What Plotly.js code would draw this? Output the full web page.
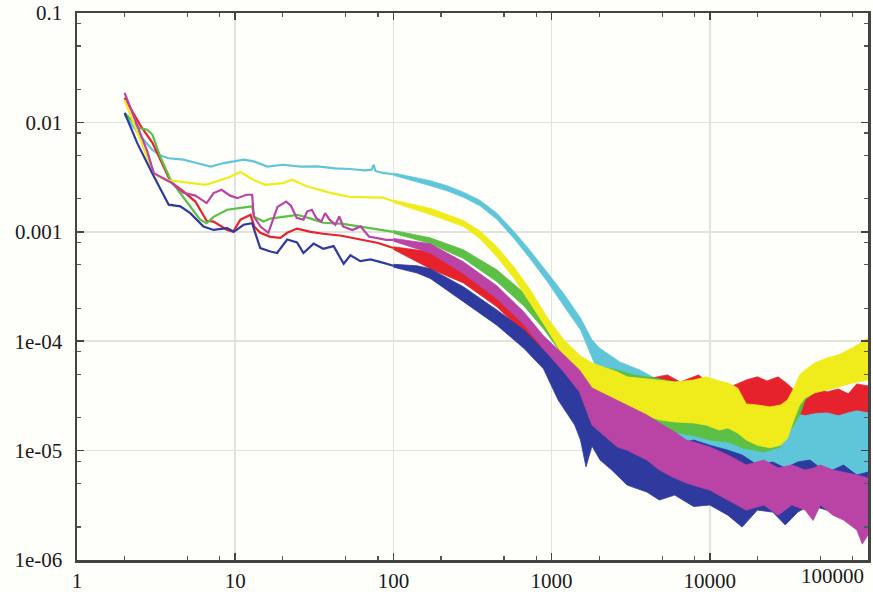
<!DOCTYPE html>
<html>
<head>
<meta charset="utf-8">
<script src="https://cdn.plot.ly/plotly-3.0.1.min.js"></script>
<style>html,body{margin:0;padding:0;background:#fefefa;}#chart{width:873px;height:592px;}</style>
</head>
<body>
<div id="chart"></div>
<script>
// ---- axis ticks ----
const xTickVals = [1, 10, 100, 1000, 10000];
const xTickText = ['1', '10', '100', '1000', '10000'];
const xLastTickText = '100000';
const yTickVals = [1e-6, 1e-5, 1e-4, 1e-3, 1e-2, 1e-1];
const yTickText = ['1e-06', '1e-05', '1e-04', '0.001', '0.01', '0.1'];
const xMinorVals = [2,5,8,20,50,80,200,500,800,2000,5000,8000,20000,50000,80000];
const yMinorVals = [2e-6,5e-6,8e-6,2e-5,5e-5,8e-5,2e-4,5e-4,8e-4,2e-3,5e-3,8e-3,2e-2,5e-2,8e-2];

// ---- cyan series ----
const cyanLineX = [2.0, 2.5, 3.0, 3.4, 3.8, 4.7, 5.7, 7.0, 8.5, 11.3, 13.1, 16, 20, 26, 33, 43, 53, 66, 73, 75, 77, 86, 100];
const cyanLineY = [1.17e-2, 7.6e-3, 5.6e-3, 4.95e-3, 4.7e-3, 4.56e-3, 4.25e-3, 3.95e-3, 4.25e-3, 4.56e-3, 4.4e-3, 3.95e-3, 4.1e-3, 3.95e-3, 3.96e-3, 3.8e-3, 3.75e-3, 3.65e-3, 3.7e-3, 4.1e-3, 3.6e-3, 3.45e-3, 3.36e-3];
const cyanBandX = [100, 171, 218, 277, 352, 451, 577, 733, 932, 1195, 1523, 1800, 2000, 2700, 3600, 5000, 7000, 10000, 14000, 20000, 25000, 30000, 40000, 50000, 70000, 100000];
const cyanBandHi = [3.45e-3, 2.93e-3, 2.64e-3, 2.30e-3, 1.94e-3, 1.48e-3, 1.01e-3, 6.70e-4, 4.31e-4, 2.71e-4, 1.63e-4, 1.03e-4, 8.69e-5, 6.46e-5, 5.46e-5, 4.24e-5, 3.74e-5, 3.23e-5, 2.90e-5, 2.61e-5, 2.35e-5, 2.45e-5, 2.35e-5, 2.25e-5, 2.35e-5, 2.61e-5];
const cyanBandLo = [3.28e-3, 2.64e-3, 2.37e-3, 2.07e-3, 1.73e-3, 1.30e-3, 8.72e-4, 5.66e-4, 3.56e-4, 2.10e-4, 1.27e-4, 7.03e-5, 4.92e-5, 3.44e-5, 2.61e-5, 1.54e-5, 1.01e-5, 7.23e-6, 6.37e-6, 5.86e-6, 5.16e-6, 5.61e-6, 5.38e-6, 5.16e-6, 4.84e-6, 4.36e-6];

// ---- red series ----
const redLineX = [2.0, 2.5, 3.0, 3.9, 4.7, 5.6, 6.6, 7.3, 8.9, 9.7, 10.8, 12.5, 13.2, 14.4, 16.7, 19.3, 21.3, 24.6, 30, 36, 47, 60, 80, 100];
const redLineY = [1.68e-2, 9.5e-3, 6.5e-3, 2.88e-3, 2.34e-3, 1.89e-3, 1.26e-3, 1.24e-3, 1.04e-3, 1.0e-3, 1.29e-3, 1.43e-3, 1.12e-3, 9.8e-4, 9.0e-4, 8.8e-4, 9.8e-4, 1.07e-3, 1.0e-3, 9.6e-4, 9.2e-4, 8.6e-4, 7.9e-4, 7.1e-4];
const redBandX = [100, 171, 277, 451, 668, 888, 1195, 1500, 1800, 2200, 3000, 4000, 5400, 6500, 8500, 10000, 13000, 17000, 20000, 23000, 27000, 31000, 35000, 40000, 46000, 55000, 65000, 75000, 85000, 100000];
const redBandHi = [7.3e-4, 6.56e-4, 4.49e-4, 2.77e-4, 1.57e-4, 9.65e-5, 6.74e-5, 5.70e-5, 5.46e-5, 5.13e-5, 4.81e-5, 4.52e-5, 4.92e-5, 4.24e-5, 4.92e-5, 4.07e-5, 3.74e-5, 4.42e-5, 4.72e-5, 4.33e-5, 4.72e-5, 4.07e-5, 3.44e-5, 3.58e-5, 3.90e-5, 3.44e-5, 3.66e-5, 3.30e-5, 4.07e-5, 3.90e-5];
const redBandLo = [6.9e-4, 4.6e-4, 3.41e-4, 2.06e-4, 1.19e-4, 7.19e-5, 4.61e-5, 3.44e-5, 3.03e-5, 2.78e-5, 2.61e-5, 2.45e-5, 2.35e-5, 2.35e-5, 2.35e-5, 2.25e-5, 2.25e-5, 2.35e-5, 2.25e-5, 2.45e-5, 2.35e-5, 2.35e-5, 2.21e-5, 2.12e-5, 2.21e-5, 2.25e-5, 2.12e-5, 2.25e-5, 2.35e-5, 2.25e-5];

// ---- green series ----
const greenLineX = [2.0, 2.46, 2.78, 3.0, 3.37, 3.9, 4.5, 5.2, 6.0, 6.6, 7.3, 8.9, 10.8, 12.8, 13.2, 15.1, 16.7, 20.2, 24.7, 30, 36, 48, 65, 86, 100];
const greenLineY = [1.22e-2, 8.9e-3, 8.57e-3, 7.7e-3, 4.8e-3, 2.99e-3, 2.25e-3, 1.71e-3, 1.29e-3, 1.2e-3, 1.37e-3, 1.59e-3, 1.64e-3, 1.71e-3, 1.37e-3, 1.24e-3, 1.32e-3, 1.37e-3, 1.43e-3, 1.32e-3, 1.21e-3, 1.18e-3, 1.1e-3, 1.04e-3, 1.0e-3];
const greenBandX = [100, 171, 277, 451, 668, 888, 1195, 1450, 1800, 2600, 3300, 4500, 6000, 8000, 10000, 13000, 16000, 22000, 28000, 33000, 37000, 40000, 46000, 55000, 100000];
const greenBandHi = [1.03e-3, 8.8e-4, 6.84e-4, 4.49e-4, 2.77e-4, 1.67e-4, 9.65e-5, 7.03e-5, 5.94e-5, 5.46e-5, 4.92e-5, 4.60e-5, 4.24e-5, 4.24e-5, 3.98e-5, 3.74e-5, 2.61e-5, 2.45e-5, 2.51e-5, 2.90e-5, 3.98e-5, 5.24e-5, 6.07e-5, 6.74e-5, 9.25e-5];
const greenBandLo = [9.7e-4, 7.8e-4, 5.7e-4, 3.5e-4, 2.1e-4, 1.3e-4, 7.19e-5, 4.72e-5, 3.03e-5, 2.35e-5, 1.91e-5, 1.68e-5, 1.48e-5, 1.36e-5, 1.25e-5, 1.20e-5, 1.06e-5, 9.71e-6, 1.08e-5, 1.61e-5, 2.12e-5, 2.90e-5, 3.44e-5, 3.74e-5, 4.61e-5];

// ---- yellow series ----
const yellowLineX = [2.0, 3.05, 3.6, 4.7, 6.5, 9.0, 10.8, 13, 15.5, 20, 23, 28, 40, 53, 75, 86, 100];
const yellowLineY = [1.6e-2, 3.4e-3, 2.99e-3, 2.87e-3, 2.69e-3, 3.12e-3, 3.52e-3, 2.99e-3, 2.69e-3, 2.79e-3, 2.99e-3, 2.62e-3, 2.27e-3, 2.09e-3, 2.05e-3, 2.05e-3, 1.9e-3];
const yellowBandX = [100, 171, 277, 352, 451, 577, 733, 932, 1195, 1523, 1800, 2600, 3000, 4000, 4800, 6000, 7900, 9500, 11500, 13000, 15000, 17000, 20000, 24000, 28000, 31000, 34000, 37000, 40000, 46000, 55000, 65000, 80000, 100000];
const yellowBandHi = [1.95e-3, 1.64e-3, 1.27e-3, 1.02e-3, 7.29e-4, 4.78e-4, 2.95e-4, 1.67e-4, 1.03e-4, 7.34e-5, 6.33e-5, 5.24e-5, 4.72e-5, 4.52e-5, 4.42e-5, 4.24e-5, 4.42e-5, 4.72e-5, 4.33e-5, 4.15e-5, 3.74e-5, 2.67e-5, 2.61e-5, 2.51e-5, 2.61e-5, 2.90e-5, 3.74e-5, 4.92e-5, 5.46e-5, 6.33e-5, 7.03e-5, 7.49e-5, 8.69e-5, 1.07e-4];
const yellowBandLo = [1.85e-3, 1.44e-3, 1.12e-3, 8.7e-4, 5.91e-4, 3.79e-4, 2.25e-4, 1.30e-4, 7.19e-5, 4.92e-5, 3.37e-5, 2.61e-5, 2.35e-5, 2.07e-5, 1.91e-5, 1.83e-5, 1.79e-5, 1.71e-5, 1.54e-5, 1.61e-5, 1.45e-5, 1.25e-5, 1.12e-5, 1.06e-5, 1.12e-5, 1.30e-5, 1.91e-5, 2.61e-5, 3.03e-5, 3.37e-5, 3.58e-5, 3.82e-5, 4.15e-5, 4.42e-5];

// ---- blue series ----
const blueLineX = [2.0, 2.4, 3.0, 3.8, 4.5, 5.2, 6.3, 7.3, 8.9, 9.8, 11.3, 12.8, 13.4, 14.4, 16.7, 18.4, 21.3, 24.6, 27, 31.3, 36, 41.9, 48.5, 53.5, 61.8, 71.6, 86.6, 100];
const blueLineY = [1.22e-2, 6.5e-3, 3.4e-3, 1.77e-3, 1.71e-3, 1.48e-3, 1.12e-3, 1.04e-3, 1.08e-3, 1.0e-3, 1.16e-3, 1.2e-3, 9.7e-4, 7.1e-4, 6.6e-4, 6.4e-4, 8.5e-4, 8.0e-4, 6.4e-4, 7.8e-4, 7.0e-4, 7.4e-4, 5.1e-4, 6.1e-4, 5.4e-4, 5.6e-4, 5.2e-4, 4.9e-4];
const blueBandX = [100, 141, 171, 277, 451, 668, 888, 1100, 1400, 1523, 1650, 1800, 2024, 2400, 3000, 4000, 4800, 6000, 7900, 10000, 13000, 16000, 20000, 25000, 30000, 36000, 43000, 50000, 60000, 70000, 85000, 100000];
const blueBandHi = [5.05e-4, 4.89e-4, 4.6e-4, 3.14e-4, 1.93e-4, 1.27e-4, 8.32e-5, 7.1e-5, 4.92e-5, 4.15e-5, 3.9e-5, 3.6e-5, 3.09e-5, 2.61e-5, 1.91e-5, 1.54e-5, 1.25e-5, 1.12e-5, 1.25e-5, 1.12e-5, 1.01e-5, 9.12e-6, 7.38e-6, 7.87e-6, 6.93e-6, 7.87e-6, 8.20e-6, 6.93e-6, 6.64e-6, 7.38e-6, 5.98e-6, 6.37e-6];
const blueBandLo = [4.75e-4, 4.2e-4, 3.75e-4, 2.3e-4, 1.4e-4, 8.6e-5, 5.6e-5, 2.90e-5, 1.71e-5, 1.25e-5, 7.1e-6, 1.1e-5, 8.20e-6, 6.64e-6, 4.84e-6, 4.18e-6, 3.53e-6, 3.92e-6, 3.08e-6, 3.18e-6, 2.57e-6, 2.0e-6, 2.86e-6, 2.74e-6, 2.09e-6, 2.74e-6, 3.18e-6, 2.98e-6, 2.74e-6, 2.57e-6, 2.32e-6, 2.0e-6];

// ---- magenta series ----
const magentaLineX = [2.0, 2.4, 2.78, 3.06, 3.9, 4.7, 5.6, 6.6, 7.3, 8.2, 9.3, 10.3, 11.8, 12.8, 13.1, 14.5, 16.2, 18.5, 21, 22.5, 24.5, 27, 28.5, 30.5, 32.5, 35, 37, 39.5, 43, 45.5, 48, 55, 62, 70, 90, 100];
const magentaLineY = [1.86e-2, 9.5e-3, 5.43e-3, 3.44e-3, 2.84e-3, 2.27e-3, 2.14e-3, 1.83e-3, 2.26e-3, 2.42e-3, 2.14e-3, 2.03e-3, 2.18e-3, 2.18e-3, 1.38e-3, 1.11e-3, 9.8e-4, 1.69e-3, 1.89e-3, 1.73e-3, 1.34e-3, 1.29e-3, 1.53e-3, 1.59e-3, 1.34e-3, 1.24e-3, 1.48e-3, 1.29e-3, 1.16e-3, 1.38e-3, 1.12e-3, 1.04e-3, 1.12e-3, 9.05e-4, 8.45e-4, 8.45e-4];
const magentaBandX = [100, 171, 277, 451, 668, 888, 1195, 1500, 1800, 2600, 3000, 4000, 4800, 6000, 7100, 9000, 10000, 13000, 17000, 22000, 27000, 33000, 40000, 45000, 50000, 60000, 70000, 85000, 92000, 100000];
const magentaBandHi = [8.7e-4, 7.77e-4, 5.31e-4, 3.21e-4, 1.85e-4, 1.12e-4, 7.49e-5, 5.46e-5, 3.74e-5, 2.90e-5, 2.61e-5, 2.12e-5, 1.79e-5, 1.48e-5, 1.25e-5, 1.12e-5, 1.08e-5, 9.12e-6, 7.38e-6, 8.20e-6, 6.93e-6, 7.38e-6, 6.64e-6, 6.9e-6, 7.38e-6, 6.64e-6, 6.37e-6, 5.98e-6, 5.8e-6, 5.61e-6];
const magentaBandLo = [8.2e-4, 6.4e-4, 4.15e-4, 2.45e-4, 1.42e-4, 8.5e-5, 5.24e-5, 3.44e-5, 1.71e-5, 1.08e-5, 1.01e-5, 8.20e-6, 6.64e-6, 5.61e-6, 5.05e-6, 4.55e-6, 4.36e-6, 3.53e-6, 2.86e-6, 3.18e-6, 2.57e-6, 3.18e-6, 2.86e-6, 2.3e-6, 3.18e-6, 2.57e-6, 2.32e-6, 1.88e-6, 1.4e-6, 1.69e-6];

// ---- colours ----
const colors = {cyan:'#5fc6d9', red:'#e6232c', green:'#5cbf46', yellow:'#f0ec1c', blue:'#2e3a9e', magenta:'#b944a6'};
const FONT = 'Liberation Serif';

function bandTrace(x, hi, lo, color) {
  return {
    x: x.concat(x.slice().reverse()),
    y: hi.concat(lo.slice().reverse()),
    type: 'scatter', mode: 'lines', fill: 'toself', fillcolor: color,
    line: {color: color, width: 0.8}, hoverinfo: 'skip'
  };
}
function lineTrace(x, y, color) {
  return {x: x, y: y, type: 'scatter', mode: 'lines', line: {color: color, width: 2.2}, hoverinfo: 'skip'};
}

const data = [];
[
  ['cyan', cyanLineX, cyanLineY, cyanBandX, cyanBandHi, cyanBandLo],
  ['red', redLineX, redLineY, redBandX, redBandHi, redBandLo],
  ['green', greenLineX, greenLineY, greenBandX, greenBandHi, greenBandLo],
  ['yellow', yellowLineX, yellowLineY, yellowBandX, yellowBandHi, yellowBandLo],
  ['blue', blueLineX, blueLineY, blueBandX, blueBandHi, blueBandLo],
  ['magenta', magentaLineX, magentaLineY, magentaBandX, magentaBandHi, magentaBandLo]
].forEach(s => {
  const c = colors[s[0]];
  data.push(bandTrace(s[3], s[4], s[5], c));
  data.push(lineTrace(s[1], s[2], c));
});

const axisCommon = {
  type: 'log', tickmode: 'array', ticks: 'inside', ticklen: 7, tickwidth: 1.5, tickcolor: '#444',
  showline: true, linecolor: '#444', linewidth: 2.5, mirror: 'allticks',
  showgrid: true, gridcolor: '#e2e2de', gridwidth: 1.5, zeroline: false,
  tickfont: {family: FONT, size: 21, color: '#1a1a1a'}
};

const layout = {
  width: 873, height: 592,
  margin: {l: 77, r: 5, t: 13, b: 32},
  paper_bgcolor: '#fefefa', plot_bgcolor: '#fefefa',
  showlegend: false,
  xaxis: Object.assign({}, axisCommon, {
    range: [0, 5], tickvals: xTickVals, ticktext: xTickText, ticklabelstandoff: 0,
    minor: {tickvals: xMinorVals, ticks: 'inside', ticklen: 4, tickwidth: 1.2, tickcolor: '#555', showgrid: false}
  }),
  yaxis: Object.assign({}, axisCommon, {
    range: [-6, -1], tickvals: yTickVals, ticktext: yTickText, ticklabelstandoff: 8,
    minor: {tickvals: yMinorVals, ticks: 'inside', ticklen: 4, tickwidth: 1.2, tickcolor: '#555', showgrid: false}
  }),
  annotations: [{
    text: xLastTickText, xref: 'paper', yref: 'paper', x: 0.9545, y: 0,
    xanchor: 'center', yanchor: 'top', yshift: -2, showarrow: false,
    font: {family: FONT, size: 21, color: '#1a1a1a'}
  }]
};

Plotly.newPlot('chart', data, layout, {displayModeBar: false, staticPlot: true});
</script>
</body>
</html>
